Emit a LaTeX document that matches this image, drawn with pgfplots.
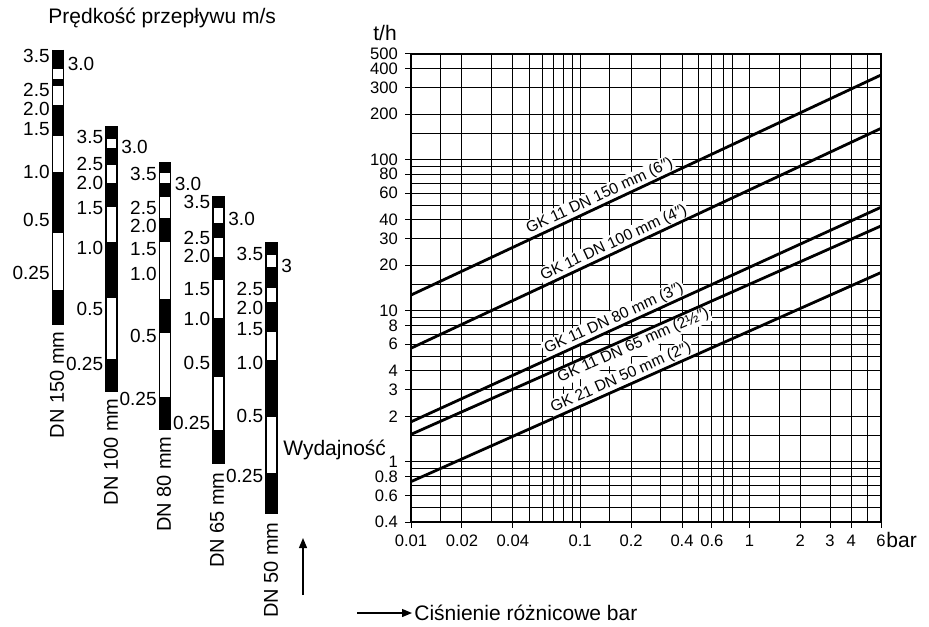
\documentclass[border=0pt]{standalone}
\usepackage{fontspec}
\setmainfont{Liberation Sans}
\usepackage{pgfplots}
\pgfplotsset{compat=1.18}
\usetikzlibrary{arrows.meta}
\newcommand{\fs}[1]{\fontsize{#1}{#1}\selectfont}
\begin{document}
\begin{tikzpicture}
\useasboundingbox (0,0) rectangle (464.5pt,313pt);
\fill[white] (0,0) rectangle (464.5pt,313pt);
\tikzset{
  vl/.style={anchor=east, inner sep=1pt, font=\fs{9.5}},
  vr/.style={anchor=west, inner sep=1pt, font=\fs{9.5}},
  dn/.style={rotate=90, anchor=east, inner sep=0pt, font=\fs{10}},
  gk/.style={sloped, fill=white, inner sep=0.8pt, font=\fs{7.8}},
}

% velocity scales (left part), units = pixels of the reference
\begin{axis}[at={(0,0)}, anchor=south west,
  width=464.5pt, height=313pt, scale only axis,
  xmin=0, xmax=929, ymin=0, ymax=626, y dir=reverse,
  hide axis, clip=false]

% DN 150
\addplot[black, line width=5.5pt, unbounded coords=jump] coordinates {
  (58,50)(58,69.3) (58,nan) (58,79.3)(58,86) (58,nan) (58,105)(58,136)
  (58,nan) (58,171.7)(58,233.3) (58,nan) (58,290)(58,325)};
\addplot[black, line width=0.6pt, unbounded coords=jump] coordinates {
  (52.5,50)(52.5,325) (52.5,nan) (63.5,50)(63.5,325)};
% DN 100
\addplot[black, line width=5.5pt, unbounded coords=jump] coordinates {
  (111.5,126)(111.5,139.3) (111.5,nan) (111.5,148.3)(111.5,165) (111.5,nan) (111.5,182.7)(111.5,207.3)
  (111.5,nan) (111.5,241.7)(111.5,298.3) (111.5,nan) (111.5,359.3)(111.5,391.7)};
\addplot[black, line width=0.6pt, unbounded coords=jump] coordinates {
  (106,126)(106,391.7) (106,nan) (117,126)(117,391.7)};
% DN 80
\addplot[black, line width=5.5pt, unbounded coords=jump] coordinates {
  (165,162.3)(165,173.3) (165,nan) (165,182.7)(165,196.7) (165,nan) (165,218.3)(165,241.7)
  (165,nan) (165,299)(165,333.3) (165,nan) (165,396.7)(165,430)};
\addplot[black, line width=0.6pt, unbounded coords=jump] coordinates {
  (159.5,162.3)(159.5,430) (159.5,nan) (170.5,162.3)(170.5,430)};
% DN 65
\addplot[black, line width=5.5pt, unbounded coords=jump] coordinates {
  (218.5,196)(218.5,208.3) (218.5,nan) (218.5,222.7)(218.5,238.3) (218.5,nan) (218.5,256.7)(218.5,280)
  (218.5,nan) (218.5,318.3)(218.5,376.7) (218.5,nan) (218.5,430)(218.5,464.3)};
\addplot[black, line width=0.6pt, unbounded coords=jump] coordinates {
  (213,196)(213,464.3) (213,nan) (224,196)(224,464.3)};
% DN 50
\addplot[black, line width=5.5pt, unbounded coords=jump] coordinates {
  (271.5,242.3)(271.5,255) (271.5,nan) (271.5,266.7)(271.5,288.3) (271.5,nan) (271.5,301.7)(271.5,331.7)
  (271.5,nan) (271.5,360)(271.5,416.7) (271.5,nan) (271.5,472.7)(271.5,514.3)};
\addplot[black, line width=0.6pt, unbounded coords=jump] coordinates {
  (266,242.3)(266,514.3) (266,nan) (277,242.3)(277,514.3)};

% scale numbers
\node[vl] at (axis cs:52,56) {3.5};  \node[vr] at (axis cs:65.5,64) {3.0};
\node[vl] at (axis cs:52,90) {2.5};  \node[vl] at (axis cs:52,109) {2.0};
\node[vl] at (axis cs:52,129) {1.5}; \node[vl] at (axis cs:52,172) {1.0};
\node[vl] at (axis cs:52,220) {0.5}; \node[vl] at (axis cs:52,273) {0.25};

\node[vl] at (axis cs:105.5,137) {3.5}; \node[vr] at (axis cs:119,147) {3.0};
\node[vl] at (axis cs:105.5,164) {2.5}; \node[vl] at (axis cs:105.5,183) {2.0};
\node[vl] at (axis cs:105.5,208) {1.5}; \node[vl] at (axis cs:105.5,248) {1.0};
\node[vl] at (axis cs:105.5,309) {0.5}; \node[vl] at (axis cs:105.5,364) {0.25};

\node[vl] at (axis cs:159,174) {3.5}; \node[vr] at (axis cs:172.5,184) {3.0};
\node[vl] at (axis cs:159,208) {2.5}; \node[vl] at (axis cs:159,226) {2.0};
\node[vl] at (axis cs:159,249) {1.5}; \node[vl] at (axis cs:159,274) {1.0};
\node[vl] at (axis cs:159,336) {0.5}; \node[vl] at (axis cs:159,399) {0.25};

\node[vl] at (axis cs:212.5,202) {3.5}; \node[vr] at (axis cs:226,219) {3.0};
\node[vl] at (axis cs:212.5,238) {2.5}; \node[vl] at (axis cs:212.5,256) {2.0};
\node[vl] at (axis cs:212.5,289) {1.5}; \node[vl] at (axis cs:212.5,319) {1.0};
\node[vl] at (axis cs:212.5,363) {0.5}; \node[vl] at (axis cs:212.5,423) {0.25};

\node[vl] at (axis cs:265.5,254) {3.5}; \node[vr] at (axis cs:279,266) {3};
\node[vl] at (axis cs:265.5,289) {2.5}; \node[vl] at (axis cs:265.5,308) {2.0};
\node[vl] at (axis cs:265.5,329) {1.5}; \node[vl] at (axis cs:265.5,363) {1.0};
\node[vl] at (axis cs:265.5,416) {0.5}; \node[vl] at (axis cs:265.5,476) {0.25};

% pipe sizes
\node[dn] at (axis cs:57,331) {DN 150 mm};
\node[dn] at (axis cs:111,398) {DN 100 mm};
\node[dn] at (axis cs:164,436) {DN 80 mm};
\node[dn] at (axis cs:217,472) {DN 65 mm};
\node[dn] at (axis cs:271,522) {DN 50 mm};

% titles and arrows
\node[anchor=west, inner sep=0pt, font=\fs{10.5}] at (axis cs:48,18) {Prędkość przepływu m/s};
\node[anchor=west, inner sep=0pt, font=\fs{10.5}] at (axis cs:373,33) {t/h};
\node[anchor=west, inner sep=0pt, font=\fs{10.5}] at (axis cs:283,450) {Wydajność};
\node[anchor=west, inner sep=0pt, font=\fs{10.5}] at (axis cs:414,613) {Ciśnienie różnicowe bar};
\node[anchor=west, inner sep=0pt, font=\fs{10.5}] at (axis cs:886,540) {bar};
\draw[line width=0.6pt, -{Triangle[length=5pt,width=4pt]}] (axis cs:303,595) -- (axis cs:303,538);
\draw[line width=0.6pt, -{Triangle[length=5pt,width=4pt]}] (axis cs:357,613) -- (axis cs:412,613);
\end{axis}

% flow chart
\begin{axis}[at={(205.5pt,52pt)}, anchor=south west,
  width=235pt, height=234pt, scale only axis,
  xmode=log, ymode=log,
  xmin=0.01, xmax=6, ymin=0.4, ymax=500,
  xtick={0.01,0.02,0.04,0.1,0.2,0.4,0.6,1,2,3,4,6},
  xticklabels={0.01,0.02,0.04,0.1,0.2,0.4,0.6,1,2,3,4,6},
  minor xtick={0.015,0.03,0.05,0.06,0.07,0.08,0.09,0.15,0.3,0.5,0.7,0.8,1.5,5},
  ytick={0.4,0.6,0.8,1,2,3,4,6,8,10,20,30,40,60,80,100,200,300,400,500},
  yticklabels={0.4,0.6,0.8,1,2,3,4,6,8,10,20,30,40,60,80,100,200,300,400,500},
  minor ytick={0.5,0.7,0.9,1.5,5,7,9,15,50,70,90,150},
  xtick pos=bottom, ytick pos=left,
  tick align=outside, major tick length=3pt, minor tick length=0pt,
  grid=both,
  major grid style={black, line width=0.5pt},
  minor grid style={black, line width=0.5pt},
  tick style={black, line width=0.5pt},
  axis line style={black, line width=0.9pt},
  ticklabel style={font=\fs{8.3}},
]
% labels first, so the lines are drawn over their white boxes
\addplot[draw=none, forget plot] coordinates {(0.01,12.7)(6,363)}
  node[gk, pos=0.41, above] {GK 11 DN 150 mm (6″)};
\addplot[draw=none, forget plot] coordinates {(0.01,5.65)(6,161)}
  node[gk, pos=0.44, above] {GK 11 DN 100 mm (4″)};
\addplot[draw=none, forget plot] coordinates {(0.01,1.84)(6,48.4)}
  node[gk, pos=0.44, above] {GK 11 DN 80 mm (3″)};
\addplot[draw=none, forget plot] coordinates {(0.01,1.52)(6,36.4)}
  node[gk, pos=0.465, below] {GK 11 DN 65 mm (2½″)};
\addplot[draw=none, forget plot] coordinates {(0.01,0.74)(6,17.9)}
  node[gk, pos=0.455, above] {GK 21 DN 50 mm (2″)};

\addplot[black, line width=1.4pt] coordinates {(0.01,12.7)(6,363)};
\addplot[black, line width=1.4pt] coordinates {(0.01,5.65)(6,161)};
\addplot[black, line width=1.4pt] coordinates {(0.01,1.84)(6,48.4)};
\addplot[black, line width=1.4pt] coordinates {(0.01,1.52)(6,36.4)};
\addplot[black, line width=1.4pt] coordinates {(0.01,0.74)(6,17.9)};
\end{axis}
\end{tikzpicture}
\end{document}
